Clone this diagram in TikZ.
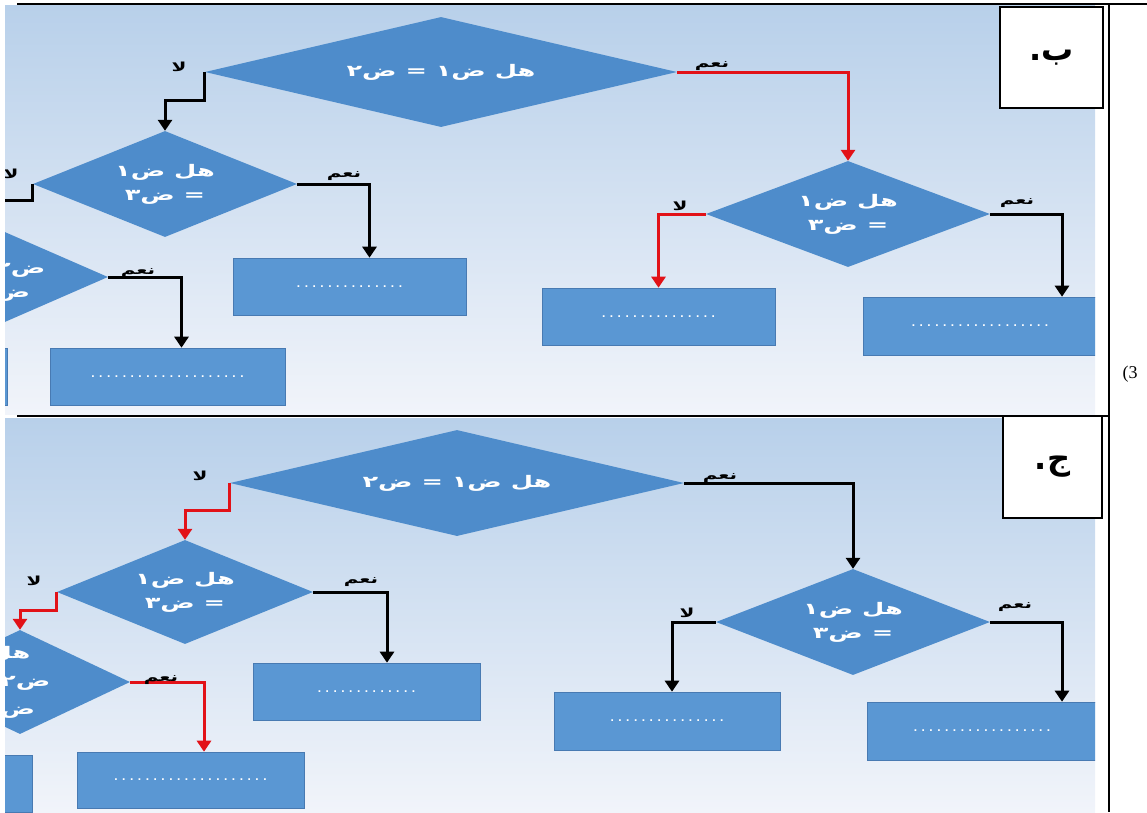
\documentclass[tikz,border=0pt]{standalone}
\usepackage{fontspec}
\usepackage{graphicx}
\usetikzlibrary{shapes.geometric,arrows.meta}
\setmainfont{Liberation Serif}
\setsansfont{Liberation Sans}
\newfontfamily\arab[Script=Arabic]{DejaVu Sans}
\TeXXeTstate=1
\definecolor{bgtop}{RGB}{184,208,234}
\definecolor{bgbot}{RGB}{241,244,250}
\definecolor{dfill}{RGB}{78,140,203}
\definecolor{bfill}{RGB}{90,151,211}
\definecolor{bedge}{RGB}{72,122,178}
\definecolor{hot}{RGB}{226,18,24}
% bold Arabic text, widened horizontally
\newcommand\artext[1]{\scalebox{1.6}[1]{\arab\bfseries\beginR #1\endR}}
% a row of spaced dots for the empty answer boxes
\newcommand\dotsrow[1]{\foreach \dotidx in {2,...,#1}{.\kern4.5pt}.}
\begin{document}
\begin{tikzpicture}[x=1pt,y=-1pt,
  dec/.style={diamond, aspect=2.5, fill=dfill, inner sep=0pt},
  dectxt/.style={text=white, align=center, inner sep=0pt, font=\fontsize{16}{24}\selectfont},
  outbox/.style={rectangle, fill=bfill, draw=bedge, line width=0.6pt, inner sep=0pt, text=white,
    font=\sffamily\bfseries\fontsize{12}{12}\selectfont},
  tag/.style={inner sep=0pt, text=black, font=\fontsize{12.5}{12.5}\selectfont},
  flow/.style={line width=3pt, -{Triangle[width=14pt,length=11pt]}},
  hotflow/.style={flow, draw=hot},
  caption/.style={draw=black, line width=2pt, fill=white, inner sep=0pt, font=\fontsize{32}{32}\selectfont}
]
\useasboundingbox (0,0) rectangle (1147,812);

% ---------- panel b ----------
\begin{scope}
  \clip (5,5) rectangle (1095,414);
  \shade[top color=bgtop, bottom color=bgbot] (5,5) rectangle (1095,414);
  \node[dec, dectxt, minimum width=472pt, minimum height=110pt] (d1) at (441,72) {\artext{هل ض١ = ض٢}};
  \node[dec, dectxt, minimum width=264pt, minimum height=106pt] (d2) at (165,184) {\artext{هل ض١}\\\artext{= ض٣}};
  \node[dec, minimum width=236pt, minimum height=103pt] (d3) at (-10,277) {};
  \node[dectxt] (d3t) at (5,282) {\artext{ض٢ =}\\\artext{ض٣}};
  \node[dec, dectxt, minimum width=284pt, minimum height=106pt] (d4) at (848,214) {\artext{هل ض١}\\\artext{= ض٣}};
  \node[outbox, minimum width=233pt, minimum height=57pt] (ba) at (349.5,286.5) {\dotsrow{14}};
  \node[outbox, minimum width=235pt, minimum height=57pt] (bb) at (167.5,376.5) {\dotsrow{20}};
  \node[outbox, minimum width=120pt, minimum height=57pt] (bl) at (-53,376.5) {};
  \node[outbox, minimum width=233pt, minimum height=57pt] (bc) at (658.5,316.5) {\dotsrow{15}};
  \node[outbox, minimum width=234pt, minimum height=58pt] (bd) at (980,326) {\dotsrow{18}};
  \coordinate (d2exit) at (-5,200);
  \draw[flow] (d1.west) -- ++(0,28) -| (d2.north);
  \draw[flow] (d2.east) -| ([xshift=20pt]ba.north);
  \draw[line width=3pt] (d2.west) |- (d2exit);
  \draw[flow] (d3.east) -| ([xshift=14pt]bb.north);
  \draw[hotflow] (d1.east) -| (d4.north);
  \draw[hotflow] (d4.west) -| (bc.north);
  \draw[flow] (d4.east) -| ([xshift=82pt]bd.north);
  \node[tag] (n1) at (179,67) {\artext{لا}};
  \node[tag] (n2) at (344,176) {\artext{نعم}};
  \node[tag] (n3) at (11,174) {\artext{لا}};
  \node[tag] (n4) at (138,273) {\artext{نعم}};
  \node[tag] (n5) at (712,66) {\artext{نعم}};
  \node[tag] (n6) at (680,206) {\artext{لا}};
  \node[tag] (n7) at (1017,203) {\artext{نعم}};
\end{scope}

% ---------- panel j ----------
\begin{scope}
  \clip (5,418) rectangle (1095,812);
  \shade[top color=bgtop, bottom color=bgbot] (5,418) rectangle (1095,812);
  \node[dec, dectxt, minimum width=454pt, minimum height=106pt] (e1) at (457,483) {\artext{هل ض١ = ض٢}};
  \node[dec, dectxt, minimum width=256pt, minimum height=104pt] (e2) at (185,592) {\artext{هل ض١}\\\artext{= ض٣}};
  \node[dec, minimum width=220pt, minimum height=104pt] (e3) at (20,682) {};
  \node[dectxt, font=\fontsize{16}{28}\selectfont] (e3t) at (10,682) {\artext{هل}\\\artext{ض٢ =}\\\artext{ض٣}};
  \node[dec, dectxt, minimum width=274pt, minimum height=106pt] (e4) at (853,622) {\artext{هل ض١}\\\artext{= ض٣}};
  \node[outbox, minimum width=227pt, minimum height=57pt] (ca) at (366.5,691.5) {\dotsrow{13}};
  \node[outbox, minimum width=227pt, minimum height=56pt] (cb) at (190.5,780) {\dotsrow{20}};
  \node[outbox, minimum width=120pt, minimum height=57pt] (cl) at (-28,783.5) {};
  \node[outbox, minimum width=226pt, minimum height=58pt] (cc) at (667,721) {\dotsrow{15}};
  \node[outbox, minimum width=230pt, minimum height=58pt] (cd) at (982,731) {\dotsrow{18}};
  \draw[hotflow] (e1.west) -- ++(0,27) -| (e2.north);
  \draw[flow] (e2.east) -| ([xshift=20.5pt]ca.north);
  \draw[hotflow] (e2.west) -- ++(0,18) -| (e3.north);
  \draw[hotflow] (e3.east) -| ([xshift=13.5pt]cb.north);
  \draw[flow] (e1.east) -| (e4.north);
  \draw[flow] (e4.west) -| ([xshift=5pt]cc.north);
  \draw[flow] (e4.east) -| ([xshift=80pt]cd.north);
  \node[tag] (m1) at (200,476) {\artext{لا}};
  \node[tag] (m2) at (361,582) {\artext{نعم}};
  \node[tag] (m3) at (34,581) {\artext{لا}};
  \node[tag] (m4) at (161,680) {\artext{نعم}};
  \node[tag] (m5) at (720,478) {\artext{نعم}};
  \node[tag] (m6) at (687,613) {\artext{لا}};
  \node[tag] (m7) at (1015,607) {\artext{نعم}};
\end{scope}

% ---------- table rules and captions ----------
\draw[line width=1.8pt] (17,4) -- (1147,4);
\draw[line width=1.5pt] (17,416) -- (1109,416);
\draw[line width=1.8pt] (1109,4) -- (1109,812);
\node[caption, minimum width=103pt, minimum height=101pt] (capb) at (1051.5,57.5) {\arab\bfseries\beginR ب.\endR};
\node[caption, minimum width=99pt, minimum height=102pt] (capj) at (1052.5,467) {\arab\bfseries\beginR ج.\endR};
\node[inner sep=0pt, font=\fontsize{18}{18}\selectfont] (qnum) at (1130,374) {(3};
\end{tikzpicture}
\end{document}
